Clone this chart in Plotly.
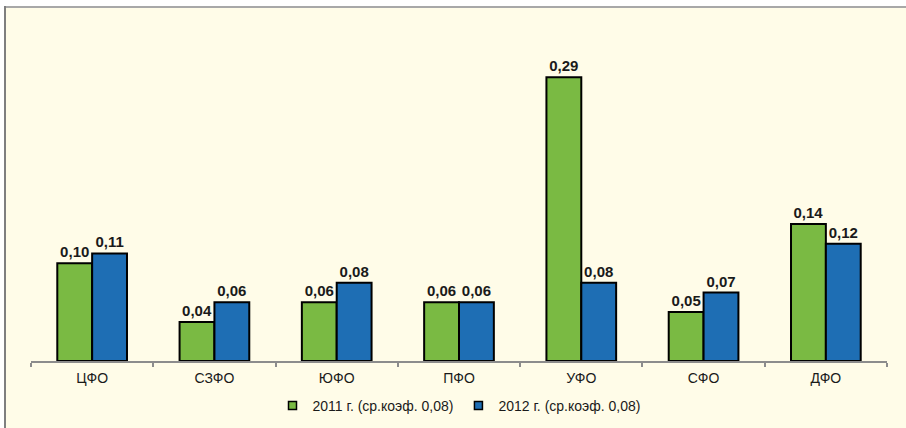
import plotly.graph_objects as go

categories = ["ЦФО", "СЗФО", "ЮФО", "ПФО", "УФО", "СФО", "ДФО"]
values_2011 = [0.10, 0.04, 0.06, 0.06, 0.29, 0.05, 0.14]
values_2012 = [0.11, 0.06, 0.08, 0.06, 0.08, 0.07, 0.12]
name_2011 = "2011 г. (ср.коэф. 0,08)"
name_2012 = "2012 г. (ср.коэф. 0,08)"

CREAM = "#FFFCE8"
GREEN = "#7ABA43"
BLUE = "#1E6EB4"
FONT = "Liberation Sans, Arial, sans-serif"

label_font = dict(family=FONT, size=15, color="#1a1a1a", weight="bold")

fig = go.Figure()
for name, vals, col in [(name_2011, values_2011, GREEN), (name_2012, values_2012, BLUE)]:
    fig.add_trace(go.Bar(
        x=categories, y=vals, name=name, legendgroup=name, showlegend=False,
        marker=dict(color=col, line=dict(color="#000000", width=2)),
        texttemplate="%{y:.2f}", textposition="outside",
        textfont=label_font, cliponaxis=False,
    ))
    # legend-only entry with a small square key, as in the original
    fig.add_trace(go.Scatter(
        x=[None], y=[None], name=name, legendgroup=name, mode="markers",
        marker=dict(symbol="square", size=8, color=col, line=dict(color="#000000", width=1.5)),
        hoverinfo="skip",
    ))

W, H = 906, 428
L, R, T, B = 31, 19, 48, 67
pw, ph = W - L - R, H - T - B

def px_x(p):
    return (p - L) / pw

def px_y(p):
    return (H - B - p) / ph

fig.update_layout(
    width=W, height=H,
    margin=dict(l=L, r=R, t=T, b=B, autoexpand=False),
    paper_bgcolor=CREAM, plot_bgcolor=CREAM,
    separators=", ",
    barmode="group", bargap=0.43, bargroupgap=0.0,
    showlegend=True,
    legend=dict(orientation="h", x=0.5, xanchor="center", y=px_y(406), yanchor="middle",
                font=dict(family=FONT, size=14, color="#1a1a1a"),
                itemwidth=30, tracegroupgap=0, bgcolor="rgba(0,0,0,0)"),
    xaxis=dict(type="category", categoryorder="array", categoryarray=categories,
               showline=True, linecolor="#8C8C8C", linewidth=2,
               ticks="outside", tickson="boundaries", ticklen=4, tickcolor="#8C8C8C", tickwidth=2,
               ticklabelstandoff=3,
               tickfont=dict(family=FONT, size=14, color="#1a1a1a"),
               showgrid=False, zeroline=False),
    yaxis=dict(visible=False, range=[0, 0.32], showgrid=False, zeroline=False),
    shapes=[
        dict(type="rect", xref="paper", yref="paper", x0=px_x(-5), x1=px_x(W + 5), y0=px_y(7), y1=px_y(-5),
             fillcolor="#FFFFFF", line=dict(width=0), layer="below"),
        dict(type="rect", xref="paper", yref="paper", x0=px_x(-5), x1=px_x(5), y0=px_y(H + 5), y1=px_y(-5),
             fillcolor="#FFFFFF", line=dict(width=0), layer="below"),
        dict(type="line", xref="paper", yref="paper", x0=px_x(5), x1=px_x(W + 5), y0=px_y(7), y1=px_y(7),
             line=dict(color="#A8A8A8", width=2), layer="below"),
        dict(type="line", xref="paper", yref="paper", x0=px_x(5), x1=px_x(5), y0=px_y(6), y1=px_y(H + 5),
             line=dict(color="#7F7F7F", width=2), layer="below"),
    ],
)

fig.write_html("out.html", config={"displayModeBar": False},
               post_script="document.body.style.margin='0';document.body.style.overflow='hidden';")
